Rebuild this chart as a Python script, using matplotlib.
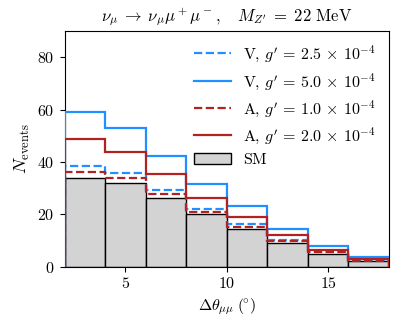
import numpy as np
import matplotlib
matplotlib.use("Agg")
import matplotlib.pyplot as plt
from matplotlib.patches import Patch
from matplotlib.lines import Line2D

plt.rcParams['font.family'] = 'serif'
plt.rcParams['font.serif'] = ['cmr10', 'DejaVu Serif']
plt.rcParams['mathtext.fontset'] = 'cm'
plt.rcParams['axes.formatter.use_mathtext'] = True
plt.rcParams['axes.unicode_minus'] = False

bin_edges = [2, 4, 6, 8, 10, 12, 14, 16, 18]
sm = [34.0, 32.0, 26.3, 20.1, 14.3, 9.2, 4.8, 2.1]
v_25 = [38.3, 35.7, 29.2, 22.1, 16.2, 10.1, 5.7, 2.5]
v_50 = [59.0, 53.0, 42.3, 31.6, 23.0, 14.3, 7.7, 3.7]
a_10 = [36.2, 33.7, 27.6, 20.8, 15.2, 9.7, 5.4, 2.2]
a_20 = [48.7, 43.9, 35.2, 26.2, 18.8, 11.9, 6.3, 3.0]

labels = [r'V, $g^\prime \,=\, 2.5 \,\times\, 10^{-4}$',
          r'V, $g^\prime \,=\, 5.0 \,\times\, 10^{-4}$',
          r'A, $g^\prime \,=\, 1.0 \,\times\, 10^{-4}$',
          r'A, $g^\prime \,=\, 2.0 \,\times\, 10^{-4}$',
          'SM']

blue = '#1E90FF'
red = '#B22222'

fig = plt.figure(figsize=(4.06, 3.17), dpi=100)
ax = fig.add_axes([0.159, 0.159, 0.799, 0.743])

edges = np.array(bin_edges)
ax.bar(edges[:-1], sm, width=np.diff(edges), align='edge',
       color='lightgray', edgecolor='black', linewidth=1.0, zorder=1)
lw = 1.6
ax.stairs(v_25, edges, color=blue, ls='--', lw=lw, zorder=3)
ax.stairs(v_50, edges, color=blue, ls='-', lw=lw, zorder=3)
ax.stairs(a_10, edges, color=red, ls='--', lw=lw, zorder=3)
ax.stairs(a_20, edges, color=red, ls='-', lw=lw, zorder=3)

handles = [Line2D([], [], color=blue, ls='--', lw=lw),
           Line2D([], [], color=blue, ls='-', lw=lw),
           Line2D([], [], color=red, ls='--', lw=lw),
           Line2D([], [], color=red, ls='-', lw=lw),
           Patch(facecolor='lightgray', edgecolor='black')]
ax.legend(handles, labels, loc='upper right', frameon=False, fontsize=11.5,
          handlelength=2.3, handletextpad=0.8, labelspacing=0.42,
          borderaxespad=0.4)

ax.set_xlim(2, 18)
ax.set_ylim(0, 90)
ax.set_xticks([5, 10, 15])
ax.set_yticks([0, 20, 40, 60, 80])
ax.tick_params(labelsize=11.5)
ax.set_xlabel(r'$\Delta\theta_{\mu\mu}\ (\!{}^{\circ})$', fontsize=11.5)
ax.set_ylabel(r'$N_{\rm events}$', fontsize=13)
ax.set_title(r'$\nu_\mu \;\to\; \nu_\mu \mu^+ \mu^-, \quad M_{Z^\prime} \;=\; 22\ \mathrm{MeV}$',
             fontsize=12, pad=7)

fig.savefig('out.png', dpi=100)
